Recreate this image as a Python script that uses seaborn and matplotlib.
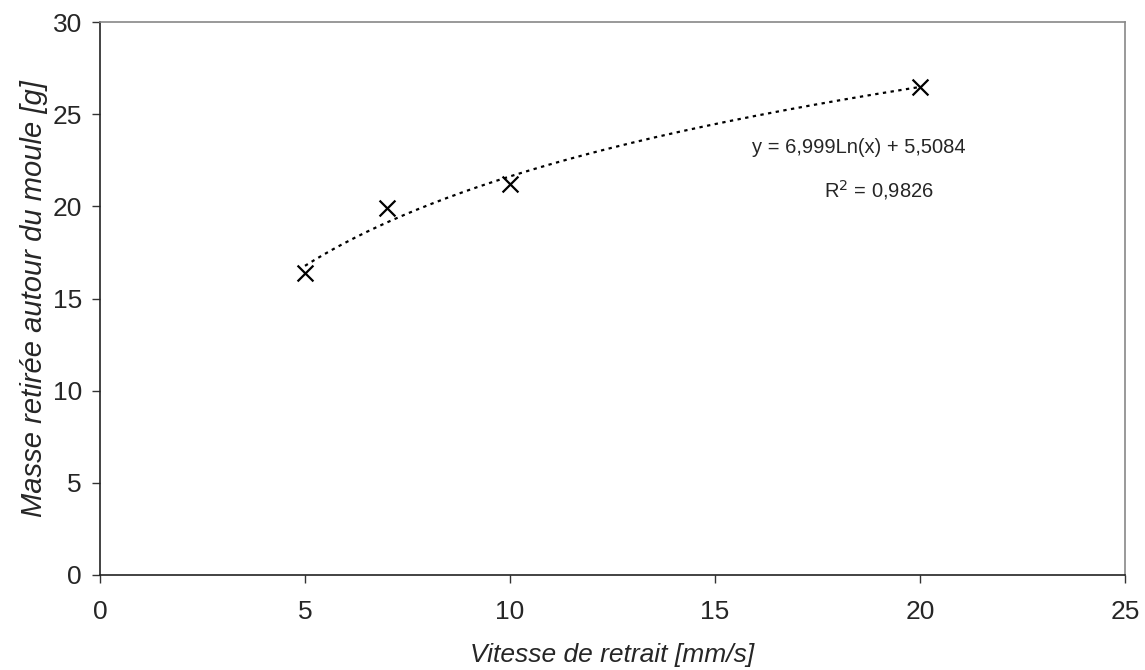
import matplotlib
matplotlib.use("Agg")
import matplotlib.pyplot as plt
import seaborn as sns
import pandas as pd
import numpy as np

# Data
vitesse = [5, 7, 10, 20]
masse = [16.4, 19.9, 21.2, 26.5]

# Logarithmic trend line coefficients (from the chart's annotation)
coef_a = 6.999
coef_b = 5.5084
r2 = 0.9826

df = pd.DataFrame({"vitesse": vitesse, "masse": masse})

sns.set_style("white")
plt.rcParams["font.family"] = ["Liberation Sans", "DejaVu Sans"]

fig = plt.figure(figsize=(11.45, 6.7), dpi=100)
ax = fig.add_axes([100 / 1145, 95 / 670, 1025 / 1145, 553 / 670])

# Trend line over the data range
xt = np.linspace(min(vitesse), max(vitesse), 200)
yt = coef_a * np.log(xt) + coef_b
ax.plot(xt, yt, color="black", linestyle=(0, (1.5, 2.0)), linewidth=1.6, zorder=2)

sns.scatterplot(data=df, x="vitesse", y="masse", marker="x", s=130,
                color="black", linewidth=1.6, ax=ax, zorder=3)

ax.set_xlim(0, 25)
ax.set_ylim(0, 30)
ax.set_xticks(range(0, 26, 5))
ax.set_yticks(range(0, 31, 5))
ax.tick_params(axis="both", direction="out", length=6, width=1, color="#333333",
               labelsize=19, pad=7, bottom=True, left=True)
ax.tick_params(axis="x", pad=12)

for side in ["left", "bottom"]:
    ax.spines[side].set_color("#222222")
    ax.spines[side].set_linewidth(1.2)
for side in ["top", "right"]:
    ax.spines[side].set_color("#888888")
    ax.spines[side].set_linewidth(1.2)

ax.set_xlabel("Vitesse de retrait [mm/s]", fontsize=19, style="italic", labelpad=14)
ax.set_ylabel("Masse retirée autour du moule [g]", fontsize=21, style="italic", labelpad=3)

eq = f"y = {coef_a:.3f}Ln(x) + {coef_b:.4f}".replace(".", ",")
ax.text(18.5, 23.2, eq, ha="center", va="center", fontsize=14.5)
ax.text(19.0, 20.9, f"R$^2$ = {r2:.4f}".replace(".", ","), ha="center", va="center",
        fontsize=14.5)

fig.savefig("out.png", dpi=100)
